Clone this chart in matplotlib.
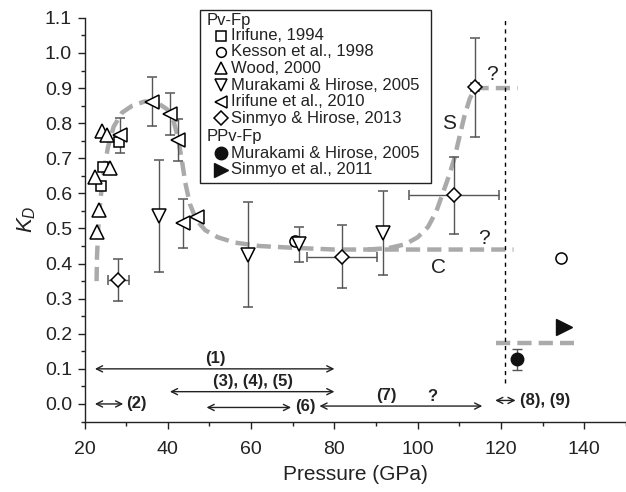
import matplotlib
matplotlib.use("Agg")
import matplotlib.pyplot as plt
from matplotlib.patches import Rectangle
from matplotlib.ticker import MultipleLocator, FormatStrFormatter
from matplotlib.lines import Line2D

plt.rcParams['font.family'] = ['Liberation Sans', 'DejaVu Sans']
plt.rcParams['mathtext.fontset'] = 'custom'
plt.rcParams['mathtext.it'] = 'Liberation Sans:italic'
plt.rcParams['mathtext.rm'] = 'Liberation Sans'

# ---------------- data ----------------
# Irifune 1994 (squares)
iri94_p = [23.9, 24.5, 28.3]
iri94_k = [0.62, 0.676, 0.745]
# Kesson et al. 1998 (open circles)
kes_p = [70.5, 134.5]
kes_k = [0.465, 0.415]
# Wood 2000 (up triangles)
wood_p = [22.9, 23.5, 22.6, 26.1, 24.3, 25.4]
wood_k = [0.49, 0.553, 0.648, 0.672, 0.778, 0.765]
# Murakami & Hirose 2005 Pv (down triangles)
mur_p = [37.8, 59.3, 71.4, 91.7]
mur_k = [0.536, 0.425, 0.455, 0.487]
mur_err = [0.16, 0.15, 0.05, 0.12]
# Irifune et al. 2010 (left triangles)
iri10_p = [28.6, 36.1, 40.5, 42.5, 43.7, 46.9]
iri10_k = [0.765, 0.861, 0.825, 0.752, 0.515, 0.534]
iri10_err = [0.05, 0.07, 0.06, 0.06, 0.07, 0.0]
# Sinmyo & Hirose 2013 (diamonds)
sin13_p = [28.1, 81.8, 108.8, 113.8]
sin13_k = [0.353, 0.42, 0.595, 0.902]
sin13_perr = [2.5, 8.4, 10.8, 1.0]
sin13_kerr = [0.06, 0.09, 0.11, 0.14]
# PPv: Murakami & Hirose 2005 (filled circle)
murppv_p = [123.8]
murppv_k = [0.127]
murppv_err = [0.03]
# PPv: Sinmyo et al. 2011 (filled right triangle)
sinppv_p = [135.1]
sinppv_k = [0.22]

# trend curves (grey dashed)
curveC_p = [22.9, 23.0, 23.3, 23.8, 24.6, 25.6, 27.0, 29.0, 31.5, 34.5, 37.5, 39.8,
            41.3, 42.4, 43.3, 44.2, 45.3, 46.8, 49.0, 52.0, 56.0, 62.0, 70.0, 80.0, 123.0]
curveC_k = [0.35, 0.42, 0.50, 0.58, 0.66, 0.73, 0.79, 0.83, 0.85, 0.862, 0.858, 0.84,
            0.81, 0.76, 0.70, 0.63, 0.57, 0.525, 0.495, 0.475, 0.46, 0.45, 0.445, 0.44, 0.44]
curveS_p = [88.0, 93.0, 97.0, 100.0, 102.5, 104.5, 106.0, 107.5, 108.8, 110.0, 111.2,
            112.5, 113.8, 124.0]
curveS_k = [0.44, 0.444, 0.455, 0.475, 0.505, 0.55, 0.60, 0.65, 0.70, 0.76, 0.82,
            0.87, 0.90, 0.90]
ppv_line_p = [118.7, 137.5]
ppv_line_k = [0.175, 0.175]
boundary_p = 121.0

# reference ranges (double arrows): start, end, y
range_start = [22.5, 40.5, 22.5, 49.3, 76.4, 118.6]
range_end = [80.0, 80.0, 29.3, 69.6, 115.5, 123.5]
range_y = [0.10, 0.035, 0.0, -0.01, -0.006, 0.01]

legend_pv = ["Irifune, 1994", "Kesson et al., 1998", "Wood, 2000",
             "Murakami & Hirose, 2005", "Irifune et al., 2010", "Sinmyo & Hirose, 2013"]
legend_ppv = ["Murakami & Hirose, 2005", "Sinmyo et al., 2011"]

# ---------------- figure ----------------
W, H = 626, 492
fig = plt.figure(figsize=(W / 100, H / 100), dpi=100)
ax = fig.add_axes([84.5 / W, (H - 421.5) / H, (W - 84.5) / W, (421.5 - 17.9) / H])
ax.set_xlim(20, 150)
ax.set_ylim(-0.05, 1.1)

for s in ['top', 'right']:
    ax.spines[s].set_visible(False)
for s in ['left', 'bottom']:
    ax.spines[s].set_linewidth(1.0)
    ax.spines[s].set_color('#222222')

ax.xaxis.set_major_locator(MultipleLocator(20))
ax.xaxis.set_minor_locator(MultipleLocator(10))
ax.yaxis.set_major_locator(MultipleLocator(0.1))
ax.yaxis.set_minor_locator(MultipleLocator(0.05))
ax.yaxis.set_major_formatter(FormatStrFormatter('%.1f'))
ax.tick_params(which='major', direction='out', length=5, width=1, labelsize=14, colors='#222222')
ax.tick_params(which='minor', direction='out', length=3, width=1, colors='#222222')
ax.tick_params(axis='x', which='major', pad=9)
ax.tick_params(axis='y', which='major', pad=4)

ax.set_xlabel('Pressure (GPa)', fontsize=15, labelpad=5, color='#222222')
ax.set_ylabel(r'$K_D$', fontsize=16, labelpad=5, color='#222222')

grey = '#aaaaaa'
dash = (0, (3.2, 1.6))
ax.plot(curveC_p, curveC_k, color=grey, lw=3.2, linestyle=dash, zorder=1)
ax.plot(curveS_p, curveS_k, color=grey, lw=3.2, linestyle=dash, zorder=1)
ax.plot(ppv_line_p, ppv_line_k, color=grey, lw=3.2, linestyle=dash, zorder=1)
ax.plot([boundary_p, boundary_p], [0.06, 1.1], color='black', lw=1.0,
        linestyle=(0, (3, 3)), zorder=1)

ecol = '#555555'
mk = dict(mfc='white', mec='black', mew=1.1, linestyle='none', zorder=3)
ax.errorbar(iri10_p, iri10_k, yerr=iri10_err, fmt='<', ms=10, ecolor=ecol, elinewidth=1,
            capsize=3.5, **mk)
ax.errorbar(mur_p, mur_k, yerr=mur_err, fmt='v', ms=10, ecolor=ecol, elinewidth=1,
            capsize=3.5, **mk)
ax.errorbar(sin13_p, sin13_k, xerr=sin13_perr, yerr=sin13_kerr, fmt='D', ms=7.5,
            ecolor=ecol, elinewidth=1, capsize=3.5, **mk)
ax.plot(iri94_p, iri94_k, 's', ms=7.5, **mk)
ax.plot(wood_p, wood_k, '^', ms=10, **mk)
ax.plot(kes_p, kes_k, 'o', ms=8, **mk)
ax.errorbar(murppv_p, murppv_k, yerr=murppv_err, fmt='o', ms=9, mfc='#111111', mec='#111111',
            ecolor=ecol, elinewidth=1, capsize=3.5, zorder=3)
ax.plot(sinppv_p, sinppv_k, '>', ms=11, mfc='#111111', mec='#111111', linestyle='none', zorder=3)

# annotations on curves
ax.text(107.5, 0.80, 'S', fontsize=15, ha='center', va='center', color='#222222')
ax.text(105.0, 0.39, 'C', fontsize=15, ha='center', va='center', color='#222222')
ax.text(117.9, 0.94, '?', fontsize=15, ha='center', va='center', color='#222222')
ax.text(116.0, 0.472, '?', fontsize=15, ha='center', va='center', color='#222222')

# range arrows
for x0, x1, yy in zip(range_start, range_end, range_y):
    ax.annotate('', xy=(x1, yy), xytext=(x0, yy),
                arrowprops=dict(arrowstyle='<->', lw=1.0, color='#222222',
                                shrinkA=0, shrinkB=0, mutation_scale=11))
bold = dict(fontsize=12, fontweight='bold', color='#222222')
ax.text(51.3, 0.13, '(1)', ha='center', va='center', **bold)
ax.text(60.4, 0.065, '(3), (4), (5)', ha='center', va='center', **bold)
ax.text(30.0, 0.0, '(2)', ha='left', va='center', **bold)
ax.text(73.0, -0.008, '(6)', ha='center', va='center', **bold)
ax.text(92.4, 0.025, '(7)', ha='center', va='center', **bold)
ax.text(103.6, 0.022, '?', ha='center', va='center', **bold)
ax.text(124.5, 0.01, '(8), (9)', ha='left', va='center', **bold)

# legend (drawn manually, figure pixel coordinates)
def fx(px):
    return px / W

def fy(py):
    return 1 - py / H

box = Rectangle((fx(200), fy(183)), fx(431) - fx(200), fy(10) - fy(183),
                transform=fig.transFigure, fill=True, facecolor='white',
                edgecolor='#222222', lw=1.0, zorder=5)
fig.patches.append(box)
leg_fs = 12
rows_y = [21, 36, 52, 68.5, 85, 101.5, 118, 136, 153, 170]
tkw = dict(fontsize=leg_fs, va='center', ha='left', color='#222222', zorder=7)
fig.text(fx(207), fy(rows_y[0]), 'Pv-Fp', **tkw)
fig.text(fx(207), fy(rows_y[7]), 'PPv-Fp', **tkw)
pv_markers = [('s', 6.5), ('o', 7), ('^', 9), ('v', 9), ('<', 9), ('D', 7)]
for (m, s), lab, py in zip(pv_markers, legend_pv, rows_y[1:7]):
    fig.lines.append(Line2D([fx(221)], [fy(py)], marker=m, ms=s, mfc='white', mec='black',
                            mew=1.1, transform=fig.transFigure, zorder=6))
    fig.text(fx(231), fy(py), lab, **tkw)
ppv_markers = [('o', 9), ('>', 10)]
for (m, s), lab, py in zip(ppv_markers, legend_ppv, rows_y[8:10]):
    fig.lines.append(Line2D([fx(221)], [fy(py)], marker=m, ms=s, mfc='#111111', mec='#111111',
                            transform=fig.transFigure, zorder=6))
    fig.text(fx(231), fy(py), lab, **tkw)

fig.savefig('out.png', dpi=100)
